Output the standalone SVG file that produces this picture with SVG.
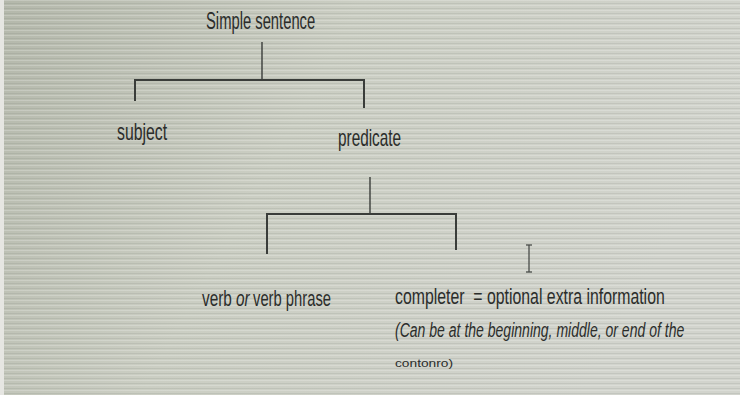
<svg xmlns="http://www.w3.org/2000/svg" width="740" height="395" viewBox="0 0 740 395">
  <defs>
    <linearGradient id="bg" x1="0" y1="0" x2="1" y2="0.3">
      <stop offset="0" stop-color="#b4b8ab"/>
      <stop offset="0.45" stop-color="#cbcec3"/>
      <stop offset="1" stop-color="#d2d4cd"/>
    </linearGradient>
    <pattern id="scan" width="740" height="5" patternUnits="userSpaceOnUse">
      <rect x="0" y="0" width="740" height="1" fill="#ffffff" opacity="0.2"/>
      <rect x="0" y="3" width="740" height="1" fill="#5e6258" opacity="0.12"/>
    </pattern>
    <style>
      .t { font-family: "Liberation Sans", "DejaVu Sans", sans-serif; fill: #2b2d2b; }
      .it { font-style: italic; }
      .ln { stroke: #3a3d3a; stroke-width: 1.4; fill: none; }
      .br { stroke: #3a3d3a; stroke-width: 2; fill: none; }
    </style>
  </defs>

  <!-- screen background -->
  <rect x="0" y="0" width="740" height="395" fill="url(#bg)"/>
  <rect x="0" y="0" width="740" height="395" fill="url(#scan)"/>
  <rect x="0" y="0" width="4" height="395" fill="#e6e6e2"/>

  <!-- connectors -->
  <g id="connectors">
    <line class="ln" x1="262" y1="42" x2="262" y2="79"/>
    <path class="br" d="M135,101 V80 H364 V108"/>
    <line class="ln" x1="370" y1="177" x2="370" y2="213"/>
    <path class="br" d="M267,254 V214 H456 V250"/>
  </g>

  <!-- labels use a condensed face: horizontal scale 0.65, lengths given in unscaled units -->
  <g id="simple-sentence">
    <text class="t" transform="translate(206,29) scale(0.65,1)" font-size="24" textLength="168" lengthAdjust="spacingAndGlyphs">Simple sentence</text>
  </g>

  <g id="subject">
    <text class="t" transform="translate(117,140) scale(0.65,1)" font-size="23" textLength="77" lengthAdjust="spacingAndGlyphs">subject</text>
  </g>

  <g id="predicate">
    <text class="t" transform="translate(338,146) scale(0.65,1)" font-size="23" textLength="97" lengthAdjust="spacingAndGlyphs">predicate</text>
  </g>

  <g id="verb">
    <text class="t" transform="translate(202,306) scale(0.65,1)" font-size="22" textLength="46" lengthAdjust="spacingAndGlyphs">verb</text>
    <text class="t it" transform="translate(236,306) scale(0.65,1)" font-size="22" textLength="21" lengthAdjust="spacingAndGlyphs">or</text>
    <text class="t" transform="translate(253,306) scale(0.65,1)" font-size="22" textLength="120" lengthAdjust="spacingAndGlyphs">verb phrase</text>
  </g>

  <g id="completer">
    <text class="t" transform="translate(395,304) scale(0.65,1)" font-size="22" textLength="415" lengthAdjust="spacingAndGlyphs">completer&#160; = optional extra information</text>
    <text class="t it" transform="translate(395,337) scale(0.65,1)" font-size="21" textLength="445" lengthAdjust="spacingAndGlyphs">(Can be at the beginning, middle, or end of the</text>
    <text class="t" x="395" y="367" font-size="11" textLength="58" lengthAdjust="spacingAndGlyphs">contonro)</text>
  </g>

  <!-- text cursor -->
  <g id="cursor" stroke="#4a4d4a" stroke-width="1.3">
    <line x1="529" y1="245" x2="529" y2="272"/>
    <line x1="526" y1="245" x2="532" y2="245"/>
    <line x1="526" y1="272" x2="532" y2="272"/>
  </g>
</svg>
